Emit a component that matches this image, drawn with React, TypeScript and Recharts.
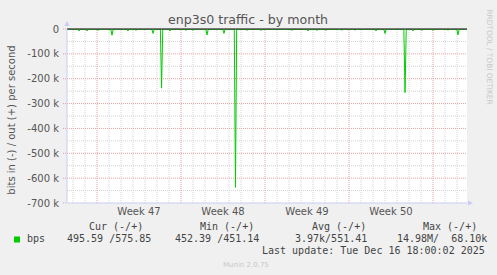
import { LineChart, Line, XAxis, YAxis, CartesianGrid, ReferenceLine } from "recharts";

// days since graph start (1 day = 12 px wide in the original munin graph)
const dipDays = [1.0, 1.67, 2.58, 3.75, 5.08, 5.75, 7.17, 7.88, 8.58, 9.92, 10.5, 11.67, 13.08, 14.04, 15.0,
  16.17, 18.75, 20.08, 20.83, 21.58, 22.92, 24.0, 25.75, 26.5, 28.17, 28.83, 29.58, 30.5, 31.75, 32.58];
// bits per second (in = negative)
const dipValues = [-8000, -8000, -6000, -25000, -8000, -6000, -18000, -238000, -8000, -6000, -6000, -24000, -18000, -637000, -6000,
  -6000, -6000, -8000, -6000, -6000, -5000, -5000, -8000, -18000, -256000, -8000, -6000, -6000, -5000, -24000];
const baseline = -495.59;
const graphDays = 400 / 12;

const weekTicks = [6, 13, 20, 27];
const weekLabels = ["Week 47", "Week 48", "Week 49", "Week 50"];
const yTicks = [0, -100000, -200000, -300000, -400000, -500000, -600000, -700000];
const halfStepsY = [-50000, -150000, -250000, -350000, -450000, -550000, -650000];
const majorDays = [2.5, 9.5, 16.5, 23.5, 30.5];
const minorDays = Array.from({ length: 33 }, (_, i) => i + 0.5).filter((d) => !majorDays.includes(d));

const legendHeads = [
  { x: 89, text: "Cur (-/+)" },
  { x: 200, text: "Min (-/+)" },
  { x: 312, text: "Avg (-/+)" },
  { x: 423, text: "Max (-/+)" },
];
const legendValues = [
  { x: 67, text: "495.59 /575.85" },
  { x: 175, text: "452.39 /451.14" },
  { x: 295, text: "3.97k/551.41" },
  { x: 397, text: "14.98M/  68.10k" },
];

const data: { day: number; bps: number }[] = [{ day: 0, bps: baseline }];
dipDays.forEach((d, i) => {
  data.push({ day: d - 0.1, bps: baseline });
  data.push({ day: d, bps: dipValues[i] });
  data.push({ day: d + 0.1, bps: baseline });
});
data.push({ day: graphDays, bps: baseline });

const fmtY = (v: number) => (v === 0 ? "0" : `${v / 1000} k`);
const fmtX = (v: number) => weekLabels[weekTicks.indexOf(v)] ?? "";

const axisBlue = "#c8ccf4";
const mono = "'DejaVu Sans Mono', monospace";

export default function App() {
  return (
    <div style={{ position: "absolute", left: 0, top: 0, width: 497, height: 275, background: "#f0f0f0", fontFamily: "'DejaVu Sans', sans-serif" }}>
      <LineChart width={497} height={275} data={data} margin={{ top: 29, right: 30, bottom: 0, left: 7 }}>
        <CartesianGrid fill="#ffffff" horizontal={false} vertical={false} />
        <XAxis
          dataKey="day"
          type="number"
          domain={[0, graphDays]}
          allowDataOverflow
          ticks={weekTicks}
          tickFormatter={fmtX}
          tickLine={false}
          tickSize={0}
          tickMargin={5}
          height={72}
          stroke={axisBlue}
          tick={{ fill: "#555", fontSize: 10 }}
        />
        <YAxis
          type="number"
          domain={[-700000, 0]}
          allowDataOverflow
          ticks={yTicks}
          tickFormatter={fmtY}
          width={60}
          tickSize={4}
          tickMargin={4}
          tickLine={{ stroke: "#e8a0a0", strokeDasharray: "1 1" }}
          stroke={axisBlue}
          tick={{ fill: "#555", fontSize: 10 }}
        />
        {minorDays.map((d) => (
          <ReferenceLine key={`vm${d}`} x={d} stroke="#d4d4d4" strokeDasharray="1 1" />
        ))}
        {halfStepsY.map((v) => (
          <ReferenceLine key={`hm${v}`} y={v} stroke="#d4d4d4" strokeDasharray="1 1" />
        ))}
        {majorDays.map((d) => (
          <ReferenceLine key={`vM${d}`} x={d} stroke="#eba0a0" strokeDasharray="1 1" />
        ))}
        {yTicks.slice(1, -1).map((v) => (
          <ReferenceLine key={`hM${v}`} y={v} stroke="#eba0a0" strokeDasharray="1 1" />
        ))}
        <Line type="linear" dataKey="bps" stroke="#00cc00" strokeWidth={1} dot={false} isAnimationActive={false} />
        <ReferenceLine y={0} stroke="#000000" />
      </LineChart>
      <svg width={497} height={275} style={{ position: "absolute", left: 0, top: 0, pointerEvents: "none" }}>
        <polygon points="64.5,26 69.5,26 67,21" fill={axisBlue} />
        <polygon points="468,200.5 468,205.5 473,203" fill={axisBlue} />
        <text x={248} y={24} textAnchor="middle" fontSize={12.6} fill="#555" fontFamily="'DejaVu Sans', sans-serif">
          enp3s0 traffic - by month
        </text>
        <text x={15} y={120} textAnchor="middle" fontSize={10} fill="#555" fontFamily="'DejaVu Sans', sans-serif" transform="rotate(-90 15 120)">
          bits in (-) / out (+) per second
        </text>
        <text x={487} y={57} textAnchor="middle" fontSize={7.4} fill="#c8c8c8" fontFamily="'DejaVu Sans', sans-serif" transform="rotate(90 487 57)">
          RRDTOOL / TOBI OETIKER
        </text>
        {legendHeads.map((h) => (
          <text key={h.text} x={h.x} y={230} fontSize={10} fill="#444" fontFamily={mono} style={{ whiteSpace: "pre" }}>
            {h.text}
          </text>
        ))}
        <rect x={14} y={236.5} width={6} height={6} fill="#00cc00" />
        <text x={27} y={242} fontSize={10} fill="#444" fontFamily={mono}>bps</text>
        {legendValues.map((v) => (
          <text key={v.text} x={v.x} y={242} fontSize={10} fill="#444" fontFamily={mono} style={{ whiteSpace: "pre" }}>
            {v.text}
          </text>
        ))}
        <text x={262} y={254} fontSize={10} fill="#444" fontFamily={mono} style={{ whiteSpace: "pre" }}>
          Last update: Tue Dec 16 18:00:02 2025
        </text>
        <text x={223} y={267} fontSize={7} fill="#c8c8c8" fontFamily="'DejaVu Sans', sans-serif">
          Munin 2.0.75
        </text>
      </svg>
    </div>
  );
}
